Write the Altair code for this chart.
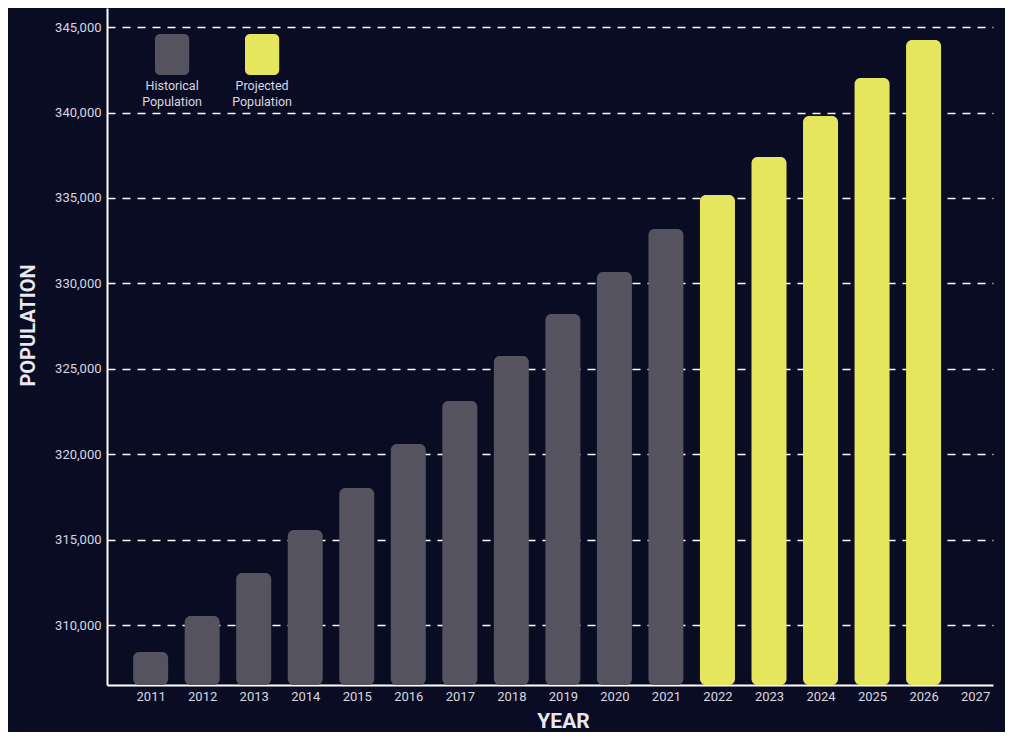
import altair as alt
import pandas as pd

years = list(range(2011, 2027))
population = [308420, 310530, 313040, 315560, 318020, 320600, 323110, 325750,
              328210, 330670, 333190, 335180, 337400, 339800, 342020, 344240]
kind = ["Historical Population"] * 11 + ["Projected Population"] * 5
y_ticks = [310000, 315000, 320000, 325000, 330000, 335000, 340000, 345000]
x_ticks = list(range(2011, 2028))
legend_names = ["Historical", "Projected"]
legend_kinds = ["Historical Population", "Projected Population"]
Y_MIN, Y_MAX = 306490, 346120

BG = "#0a0c23"
GRAY = "#54535f"
YELLOW = "#e6e65e"
FONT = "Roboto"

df = pd.DataFrame({"year": years, "population": population, "kind": kind})

x_scale = alt.Scale(domain=[2010.25, 2027.25], nice=False, zero=False)
y_scale = alt.Scale(domain=[Y_MIN, Y_MAX], nice=False, zero=False)
color_scale = alt.Scale(domain=legend_kinds, range=[GRAY, YELLOW])

bars = alt.Chart(df).mark_bar(width=35, cornerRadius=6).encode(
    x=alt.X("year:Q", scale=x_scale,
            axis=alt.Axis(values=x_ticks, format="d", title="YEAR", grid=False,
                          ticks=False, domainColor="white", domainWidth=2,
                          labelColor="#d8d8e0", labelFont=FONT, labelFontSize=13,
                          labelPadding=5, titleFont=FONT, titleX=456,
                          titleFontWeight="bold", titleFontSize=21, titleColor="#e8e8ee",
                          titlePadding=7)),
    y=alt.Y("population:Q", scale=y_scale,
            axis=alt.Axis(values=y_ticks, format=",.0f", title="POPULATION",
                          grid=True, gridColor="white", gridDash=[8, 7], gridWidth=1.3,
                          ticks=False, domainColor="white", domainWidth=2,
                          labelColor="#d8d8e0", labelFont=FONT, labelFontSize=13,
                          labelPadding=6, titleFont=FONT, titleY=317,
                          titleFontWeight="bold", titleFontSize=20, titleColor="#e8e8ee",
                          titlePadding=16)),
    y2=alt.datum(Y_MIN),
    color=alt.Color("kind:N", scale=color_scale, legend=None),
)

leg_df = pd.DataFrame({"i": [0, 1], "name": legend_names, "kind": legend_kinds})
leg_x = alt.Scale(domain=[0, 1], range=[48, 138])

leg_sq = alt.Chart(leg_df).mark_bar(cornerRadius=5).encode(
    x=alt.X("i:Q", scale=leg_x, axis=None),
    x2=alt.X2("x2:Q"),
    y=alt.value(26), y2=alt.value(67),
    color=alt.Color("kind:N", scale=color_scale, legend=None),
).transform_calculate(x2="datum.i + 0.38")

leg_txt1 = alt.Chart(leg_df).mark_text(font=FONT, fontSize=12.5, color="#d8d8e0").encode(
    x=alt.X("c:Q", scale=leg_x, axis=None),
    y=alt.value(78), text="name:N").transform_calculate(c="datum.i + 0.19")
leg_txt2 = alt.Chart(leg_df).mark_text(font=FONT, fontSize=12.5, color="#d8d8e0", text="Population").encode(
    x=alt.X("c:Q", scale=leg_x, axis=None),
    y=alt.value(94)).transform_calculate(c="datum.i + 0.19")

legend = alt.layer(leg_sq, leg_txt1, leg_txt2)

chart = alt.layer(bars, legend).resolve_scale(x="independent").properties(
    width=886, height=677, background=BG,
    autosize=alt.AutoSizeParams(type="none"),
    padding={"left": 99, "top": 0, "right": 12, "bottom": 47},
).configure_view(stroke=None)

chart.save("out.html", embed_options={"renderer": "svg", "actions": False})
